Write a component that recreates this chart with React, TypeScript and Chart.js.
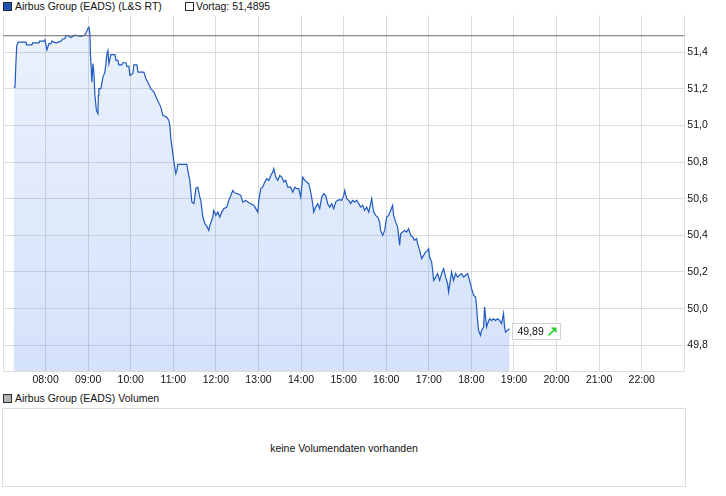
import React, { useEffect, useRef } from 'react';
import { Chart, registerables } from 'chart.js';

Chart.register(...registerables);

// ---- data (minutes since midnight, price in EUR) ----
const tradeMinutes = [
  435.1, 436.9, 437.9, 439.3, 441.5, 452.4, 453.1, 460.8, 461.5, 470.7,
  471.4, 477.7, 479.1, 481.9, 483.4, 484.8, 487.6, 489.0, 494.6, 501.7,
  504.5, 507.3, 508.7, 511.5, 515.7, 520.0, 521.4, 529.8, 535.4, 536.8,
  539.7, 541.1, 542.5, 543.2, 545.3, 546.7, 548.1, 549.5, 551.6, 553.7,
  554.4, 555.1, 558.0, 560.8, 563.6, 565.0, 566.4, 567.8, 569.2, 572.0,
  577.7, 579.1, 581.9, 583.3, 587.5, 588.9, 593.2, 594.6, 597.4, 598.8,
  603.0, 604.4, 608.6, 610.1, 618.5, 621.3, 624.1, 628.4, 632.6, 636.8,
  642.4, 645.2, 650.9, 653.7, 655.1, 656.5, 659.3, 661.2, 663.5, 665.0,
  666.4, 679.0, 680.4, 683.3, 686.1, 688.9, 690.3, 691.7, 694.5, 697.3,
  698.7, 701.6, 704.4, 707.2, 710.0, 711.4, 715.6, 717.0, 719.9, 722.7,
  725.5, 728.3, 731.1, 735.3, 738.2, 741.0, 743.8, 746.6, 750.8, 755.1,
  757.9, 762.1, 764.9, 769.1, 773.4, 776.2, 779.0, 780.4, 783.2, 786.0,
  788.8, 791.7, 794.5, 797.3, 800.1, 801.5, 804.3, 807.1, 810.0, 812.8,
  815.6, 818.4, 821.2, 825.4, 828.3, 831.1, 833.9, 836.7, 839.5, 842.3,
  845.2, 848.0, 850.8, 853.6, 856.4, 857.8, 860.6, 863.5, 866.3, 869.1,
  871.9, 874.7, 877.5, 880.4, 883.2, 886.0, 888.8, 891.6, 894.4, 897.2,
  900.1, 901.5, 904.3, 907.1, 909.9, 912.7, 915.5, 918.4, 921.2, 924.0,
  926.8, 929.6, 932.4, 935.3, 938.1, 939.5, 942.3, 945.1, 947.9, 950.7,
  952.1, 955.0, 957.8, 960.6, 963.4, 966.2, 969.0, 970.4, 973.3, 976.1,
  978.9, 980.3, 983.1, 985.9, 988.8, 991.6, 994.4, 997.2, 1000.0, 1002.8,
  1004.2, 1007.1, 1009.9, 1012.7, 1015.5, 1018.3, 1019.7, 1021.1, 1024.0, 1025.4,
  1026.8, 1029.6, 1032.4, 1035.2, 1038.0, 1040.8, 1043.7, 1046.5, 1047.9, 1049.3,
  1052.1, 1054.9, 1057.7, 1060.5, 1063.4, 1066.2, 1069.0, 1071.8, 1074.6, 1077.4,
  1080.3, 1083.1, 1085.9, 1087.3, 1088.7, 1090.1, 1092.9, 1094.3, 1097.2, 1098.6,
  1101.4, 1102.8, 1105.6, 1108.4, 1111.2, 1114.0, 1116.9, 1119.7, 1122.5, 1125.3,
  1126.7, 1128.1, 1130.9, 1133.8,
];

const prices = [
  51.209, 51.209, 51.313, 51.435, 51.455, 51.455, 51.440, 51.440, 51.451, 51.451,
  51.460, 51.460, 51.468, 51.413, 51.431, 51.446, 51.446, 51.460, 51.450, 51.460,
  51.473, 51.473, 51.491, 51.489, 51.480, 51.489, 51.493, 51.486, 51.493, 51.504,
  51.529, 51.536, 51.502, 51.391, 51.236, 51.338, 51.289, 51.164, 51.082, 51.064,
  51.164, 51.200, 51.202, 51.264, 51.291, 51.337, 51.391, 51.409, 51.337, 51.386,
  51.386, 51.355, 51.355, 51.331, 51.331, 51.342, 51.342, 51.322, 51.322, 51.273,
  51.284, 51.331, 51.331, 51.291, 51.291, 51.255, 51.236, 51.200, 51.182, 51.146,
  51.100, 51.055, 51.045, 51.027, 51.000, 50.928, 50.846, 50.791, 50.737, 50.755,
  50.787, 50.787, 50.755, 50.700, 50.582, 50.573, 50.609, 50.656, 50.663, 50.609,
  50.591, 50.500, 50.464, 50.449, 50.427, 50.454, 50.500, 50.536, 50.509, 50.527,
  50.500, 50.527, 50.546, 50.554, 50.591, 50.618, 50.645, 50.631, 50.627, 50.618,
  50.582, 50.591, 50.582, 50.573, 50.564, 50.546, 50.527, 50.591, 50.655, 50.663,
  50.691, 50.709, 50.700, 50.727, 50.745, 50.764, 50.718, 50.700, 50.727, 50.718,
  50.691, 50.700, 50.663, 50.663, 50.636, 50.663, 50.655, 50.655, 50.609, 50.718,
  50.700, 50.691, 50.682, 50.636, 50.573, 50.527, 50.554, 50.573, 50.546, 50.609,
  50.627, 50.618, 50.573, 50.554, 50.573, 50.546, 50.582, 50.591, 50.595, 50.591,
  50.618, 50.645, 50.600, 50.591, 50.573, 50.591, 50.582, 50.591, 50.573, 50.554,
  50.564, 50.536, 50.554, 50.527, 50.573, 50.600, 50.527, 50.509, 50.500, 50.472,
  50.427, 50.400, 50.427, 50.500, 50.509, 50.536, 50.564, 50.509, 50.472, 50.445,
  50.345, 50.409, 50.418, 50.427, 50.418, 50.436, 50.400, 50.391, 50.373, 50.382,
  50.355, 50.318, 50.273, 50.291, 50.309, 50.318, 50.327, 50.282, 50.254, 50.209,
  50.154, 50.172, 50.191, 50.154, 50.191, 50.218, 50.172, 50.136, 50.091, 50.127,
  50.200, 50.154, 50.191, 50.172, 50.182, 50.191, 50.172, 50.182, 50.191, 50.154,
  50.109, 50.073, 50.063, 50.009, 49.936, 49.882, 49.854, 49.882, 49.900, 50.009,
  49.900, 49.918, 49.945, 49.936, 49.945, 49.936, 49.945, 49.936, 49.918, 49.973,
  49.900, 49.872, 49.882, 49.890,
];

const previousClose = 51.4895;
const hourTicks = [420, 480, 540, 600, 660, 720, 780, 840, 900, 960, 1020, 1080, 1140, 1200, 1260, 1320, 1380];
const priceTicks = [49.8, 50.0, 50.2, 50.4, 50.6, 50.8, 51.0, 51.2, 51.4];
const seriesLabel = 'Airbus Group (EADS) (L&S RT)';
const previousLabel = 'Vortag';
const volumeLabel = 'Airbus Group (EADS) Volumen';
const noVolumeText = 'keine Volumendaten vorhanden';

const FONT = '"Liberation Sans", Arial, sans-serif';
const FONT_SIZE = 10.5;
const LINE_COLOR = '#1f5ac0';
const GRID = '#dcdcdc';

const fmtNum = (v: number, d: number) => v.toFixed(d).replace('.', ',');
const fmtTime = (m: number) =>
  `${String(Math.floor(m / 60)).padStart(2, '0')}:${String(Math.round(m % 60)).padStart(2, '0')}`;

const lastPricePlugin = {
  id: 'lastPrice',
  afterDatasetsDraw(chart: any) {
    const { ctx, scales } = chart;
    const i = prices.length - 1;
    const px = scales.x.getPixelForValue(tradeMinutes[i]);
    const py = scales.y.getPixelForValue(prices[i]);
    const left = Math.round(px) + 2.5;
    const top = Math.round(py) - 5.5;
    const w = 48;
    const h = 16;
    ctx.save();
    ctx.fillStyle = '#ffffff';
    ctx.fillRect(left, top, w, h);
    ctx.strokeStyle = '#d2d2d2';
    ctx.lineWidth = 1;
    ctx.strokeRect(left, top, w, h);
    ctx.fillStyle = '#111111';
    ctx.font = `${FONT_SIZE}px ${FONT}`;
    ctx.textAlign = 'left';
    ctx.textBaseline = 'middle';
    ctx.fillText(fmtNum(prices[i], 2), left + 5, top + h / 2 + 0.5);
    const up = prices[i] >= prices[i - 1];
    const ax = left + 36;
    const ay = top + 12;
    ctx.strokeStyle = up ? '#19d419' : '#e01919';
    ctx.fillStyle = ctx.strokeStyle;
    ctx.lineWidth = 1.6;
    ctx.beginPath();
    ctx.moveTo(ax, ay);
    ctx.lineTo(ax + 5.5, ay - 5.5);
    ctx.stroke();
    ctx.beginPath();
    ctx.moveTo(ax + 8, ay - 8);
    ctx.lineTo(ax + 2.5, ay - 8);
    ctx.lineTo(ax + 8, ay - 2.5);
    ctx.closePath();
    ctx.fill();
    ctx.restore();
  },
};

const legendText: React.CSSProperties = {
  position: 'absolute',
  fontFamily: FONT,
  fontSize: FONT_SIZE,
  lineHeight: '12px',
  color: '#111',
  whiteSpace: 'nowrap',
};

const square = (left: number, top: number, bg: string): React.CSSProperties => ({
  position: 'absolute',
  left,
  top,
  width: 7,
  height: 7,
  border: '1px solid #2a2a2a',
  background: bg,
});

export default function App() {
  const canvasRef = useRef<HTMLCanvasElement | null>(null);

  useEffect(() => {
    const canvas = canvasRef.current;
    if (!canvas) return;
    const chart = new Chart(canvas, {
      type: 'line',
      data: {
        datasets: [
          {
            label: seriesLabel,
            data: tradeMinutes.map((m, i) => ({ x: m, y: prices[i] })),
            borderColor: LINE_COLOR,
            borderWidth: 1.2,
            pointRadius: 0,
            tension: 0,
            fill: 'start',
            order: 1,
            backgroundColor: (c: any) => {
              const a = c.chart.chartArea;
              if (!a) return 'rgba(40,110,230,0.15)';
              const g = c.chart.ctx.createLinearGradient(0, a.top, 0, a.bottom);
              g.addColorStop(0, 'rgba(40,110,230,0.09)');
              g.addColorStop(1, 'rgba(40,110,230,0.2)');
              return g;
            },
          },
          {
            label: `${previousLabel}: ${fmtNum(previousClose, 4)}`,
            data: [
              { x: hourTicks[0], y: previousClose },
              { x: hourTicks[hourTicks.length - 1], y: previousClose },
            ],
            borderColor: '#6b6b6b',
            borderWidth: 1,
            pointRadius: 0,
            fill: false,
            order: 0,
          },
        ],
      },
      options: {
        animation: false,
        responsive: false,
        devicePixelRatio: 1,
        layout: { padding: { top: 15.5, left: 2, right: 0, bottom: 0 } },
        plugins: { legend: { display: false }, tooltip: { enabled: false } },
        scales: {
          x: {
            type: 'linear',
            min: hourTicks[0],
            max: hourTicks[hourTicks.length - 1],
            afterBuildTicks: (s: any) => {
              s.ticks = hourTicks.map((v) => ({ value: v }));
            },
            afterFit: (s: any) => {
              s.height = 20.7;
            },
            grid: { color: GRID, drawTicks: false },
            border: { color: GRID },
            ticks: {
              padding: 3,
              color: '#111',
              autoSkip: false,
              maxRotation: 0,
              font: { family: FONT, size: FONT_SIZE },
              callback: (v: any) =>
                v === hourTicks[0] || v === hourTicks[hourTicks.length - 1] ? '' : fmtTime(Number(v)),
            },
          },
          y: {
            position: 'right',
            min: 49.658,
            max: 51.6,
            afterBuildTicks: (s: any) => {
              s.ticks = priceTicks.map((v) => ({ value: v }));
            },
            afterFit: (s: any) => {
              s.width = 41.7;
            },
            grid: { color: GRID, drawTicks: false },
            border: { color: GRID },
            ticks: {
              padding: 3,
              color: '#111',
              font: { family: FONT, size: FONT_SIZE },
              callback: (v: any) => fmtNum(Number(v), 1),
            },
          },
        },
      },
      plugins: [lastPricePlugin],
    });
    return () => chart.destroy();
  }, []);

  return (
    <div style={{ position: 'absolute', left: 0, top: 0, width: 726, height: 496, background: '#fff', overflow: 'hidden' }}>
      <div style={square(3, 2, '#1f55bb')} />
      <div style={{ ...legendText, left: 15, top: 0 }}>{seriesLabel}</div>
      <div style={square(185, 2, '#ffffff')} />
      <div style={{ ...legendText, left: 196, top: 0 }}>{`${previousLabel}: ${fmtNum(previousClose, 4)}`}</div>
      <canvas
        ref={canvasRef}
        width={726}
        height={392}
        style={{ position: 'absolute', left: 0, top: 0, width: 726, height: 392, display: 'block' }}
      />
      <div style={square(3, 394, '#b4b4b4')} />
      <div style={{ ...legendText, left: 15, top: 392 }}>{volumeLabel}</div>
      <div
        style={{
          position: 'absolute',
          left: 2,
          top: 408,
          width: 682,
          height: 77,
          border: `1px solid ${GRID}`,
          display: 'flex',
          alignItems: 'center',
          justifyContent: 'center',
          fontFamily: FONT,
          fontSize: FONT_SIZE,
          color: '#111',
        }}
      >
        {noVolumeText}
      </div>
    </div>
  );
}
